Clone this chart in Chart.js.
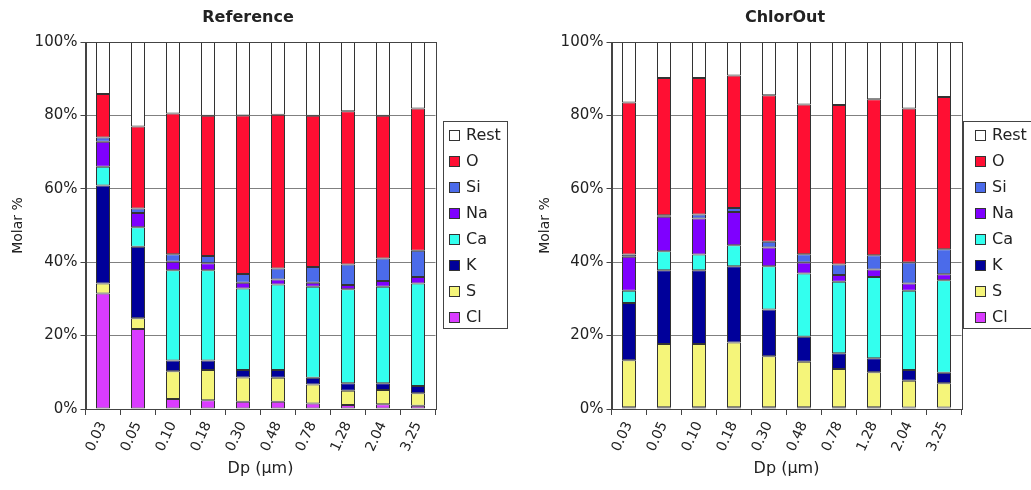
<!DOCTYPE html>
<html><head><meta charset="utf-8">
<script src="https://cdn.jsdelivr.net/npm/chart.js@4/dist/chart.umd.min.js"></script>
<style>
html,body{margin:0;padding:0;background:#fff;}
#wrap{position:relative;width:1031px;height:490px;overflow:hidden;background:#fff;}
canvas{position:absolute;top:0;}
</style></head><body>
<div id="wrap">
<canvas id="c1" width="515" height="490" style="left:0px"></canvas>
<canvas id="c2" width="516" height="490" style="left:515px"></canvas>
</div>
<script>
const categories = ['0.03','0.05','0.10','0.18','0.30','0.48','0.78','1.28','2.04','3.25'];
const elements = ['Cl','S','K','Ca','Na','Si','O','Rest'];
const yTicks = [0,20,40,60,80,100];

// Reference panel (stack bottom -> top)
const refCl   = [31.5, 21.8, 2.7, 2.4, 2.0, 2.0, 1.5, 1.1, 1.3, 0.9];
const refS    = [2.7, 2.9, 7.6, 8.2, 6.6, 6.5, 5.2, 3.9, 3.9, 3.4];
const refK    = [26.7, 19.5, 2.9, 2.6, 2.0, 2.1, 1.8, 2.0, 1.8, 2.0];
const refCa   = [5.1, 5.3, 24.6, 24.6, 22.2, 23.3, 24.8, 25.6, 26.3, 27.9];
const refNa   = [6.8, 3.9, 2.3, 1.9, 1.6, 1.4, 1.1, 1.2, 1.6, 1.8];
const refSi   = [1.2, 1.2, 2.1, 2.0, 2.4, 3.0, 4.3, 5.6, 6.1, 7.1];
const refO    = [11.8, 22.4, 38.3, 38.2, 43.2, 41.9, 41.2, 41.7, 38.9, 38.8];
const refRest = [14.2, 23.0, 19.5, 20.1, 20.0, 19.8, 20.1, 18.9, 20.1, 18.1];

// ChlorOut panel
const chlCl   = [0.5, 0.5, 0.5, 0.5, 0.5, 0.5, 0.5, 0.5, 0.4, 0.4];
const chlS    = [12.8, 17.2, 17.2, 17.6, 13.9, 12.4, 10.4, 9.5, 7.3, 6.6];
const chlK    = [15.6, 20.1, 20.1, 20.8, 12.7, 6.8, 4.3, 3.8, 2.9, 2.9];
const chlCa   = [3.3, 5.2, 4.3, 5.7, 11.8, 17.2, 19.5, 22.2, 21.6, 25.2];
const chlNa   = [9.3, 9.4, 9.8, 9.1, 5.1, 3.0, 1.8, 2.0, 2.0, 1.6];
const chlSi   = [0.6, 0.4, 1.1, 1.1, 1.6, 2.3, 2.9, 3.9, 5.7, 6.8];
const chlO    = [41.4, 37.4, 37.2, 36.1, 39.9, 40.8, 43.4, 42.5, 42.0, 41.5];
const chlRest = [16.5, 9.8, 9.8, 9.1, 14.5, 17.0, 17.2, 15.6, 18.1, 15.0];

const colors = {Cl:'#DA3CFF', S:'#F5F57A', K:'#00009A', Ca:'#33FFEE', Na:'#7F00FF', Si:'#4B6BEA', O:'#FF0F33', Rest:'#FFFFFF'};

Chart.defaults.font.family = "'DejaVu Sans', sans-serif";
Chart.defaults.color = '#222';

const framePlugin = {
  id: 'frame',
  afterDatasetsDraw(chart) {
    const a = chart.chartArea, ctx = chart.ctx;
    ctx.save();
    ctx.strokeStyle = '#444';
    ctx.lineWidth = 1;
    ctx.strokeRect(Math.round(a.left) + 0.5, Math.round(a.top) + 0.5, Math.round(a.right - a.left), Math.round(a.bottom - a.top));
    ctx.restore();
  }
};

const boxLegend = {
  id: 'boxLegend',
  afterDraw(chart, args, o) {
    const ctx = chart.ctx;
    ctx.save();
    ctx.strokeStyle = '#444';
    ctx.lineWidth = 1;
    ctx.strokeRect(o.x + 0.5, o.y + 0.5, o.w, o.h);
    const ds = chart.data.datasets.slice().reverse();
    ctx.font = "16px 'DejaVu Sans'";
    ctx.textBaseline = 'middle';
    ctx.textAlign = 'left';
    ds.forEach((d, i) => {
      const cy = Math.round(o.y + o.first + i * o.step);
      ctx.fillStyle = d.backgroundColor;
      ctx.fillRect(o.x + o.sq, cy - 5, 10, 10);
      ctx.strokeStyle = '#333';
      ctx.strokeRect(o.x + o.sq + 0.5, cy - 5 + 0.5, 10, 10);
      ctx.fillStyle = '#222';
      ctx.fillText(d.label, o.x + o.sq + 17, cy + 1);
    });
    ctx.restore();
  }
};

const panelTitle = {
  id: 'panelTitle',
  afterDraw(chart, args, o) {
    const ctx = chart.ctx;
    ctx.save();
    ctx.font = "bold 16px 'DejaVu Sans'";
    ctx.fillStyle = '#222';
    ctx.textAlign = 'center';
    ctx.textBaseline = 'middle';
    ctx.fillText(o.text, o.x, o.y);
    ctx.restore();
  }
};

function makeChart(id, series, opts) {
  const datasets = elements.map((el, i) => ({
    label: el,
    data: series[i],
    backgroundColor: colors[el],
    borderColor: '#333',
    borderWidth: 1,
    borderSkipped: false,
    categoryPercentage: 1.0,
    barPercentage: 0.4
  }));
  return new Chart(document.getElementById(id), {
    type: 'bar',
    data: { labels: categories, datasets },
    plugins: [framePlugin, boxLegend, panelTitle],
    options: {
      responsive: false,
      animation: false,
      devicePixelRatio: 1,
      layout: { padding: { top: 42, right: opts.padRight, bottom: 0, left: 0 } },
      plugins: {
        legend: { display: false },
        tooltip: { enabled: false },
        title: { display: false },
        boxLegend: opts.legend,
        panelTitle: opts.title
      },
      scales: {
        x: {
          stacked: true,
          grid: { offset: true, drawOnChartArea: false, drawTicks: true, tickLength: 6, color: '#444' },
          border: { display: true, color: '#444' },
          ticks: { autoSkip: false, minRotation: 65, maxRotation: 65, padding: 4, font: { size: 14 }, color: '#222' },
          title: { display: true, text: 'Dp (\u00B5m)', font: { size: 16 }, color: '#222', padding: { top: 0, bottom: 12 } },
          afterFit(s) { s.height = 81; }
        },
        y: {
          stacked: true,
          min: 0, max: 100,
          afterBuildTicks(s) { s.ticks = yTicks.map(v => ({ value: v })); },
          grid: { color: '#808080', lineWidth: 1, drawTicks: true, tickLength: 5, tickColor: '#444' },
          border: { display: true, color: '#444' },
          ticks: { padding: 3, font: { size: 15 }, color: '#222', callback: v => v + '%' },
          title: { display: true, text: 'Molar %', font: { size: 14 }, color: '#222', padding: { top: opts.yTitlePad, bottom: 0 } },
          afterFit(s) { s.width = opts.yWidth; }
        }
      }
    }
  });
}

makeChart('c1', [refCl, refS, refK, refCa, refNa, refSi, refO, refRest], {
  padRight: 79.5, yWidth: 85.5, yTitlePad: 10,
  legend: { x: 443, y: 121, w: 64, h: 207, sq: 6, first: 14, step: 25.96 },
  title: { text: 'Reference', x: 248, y: 18 }
});
makeChart('c2', [chlCl, chlS, chlK, chlCa, chlNa, chlSi, chlO, chlRest], {
  padRight: 69.5, yWidth: 96.5, yTitlePad: 22,
  legend: { x: 448, y: 121, w: 80, h: 207, sq: 12, first: 14, step: 25.96 },
  title: { text: 'ChlorOut', x: 270, y: 18 }
});
</script>
</body></html>
